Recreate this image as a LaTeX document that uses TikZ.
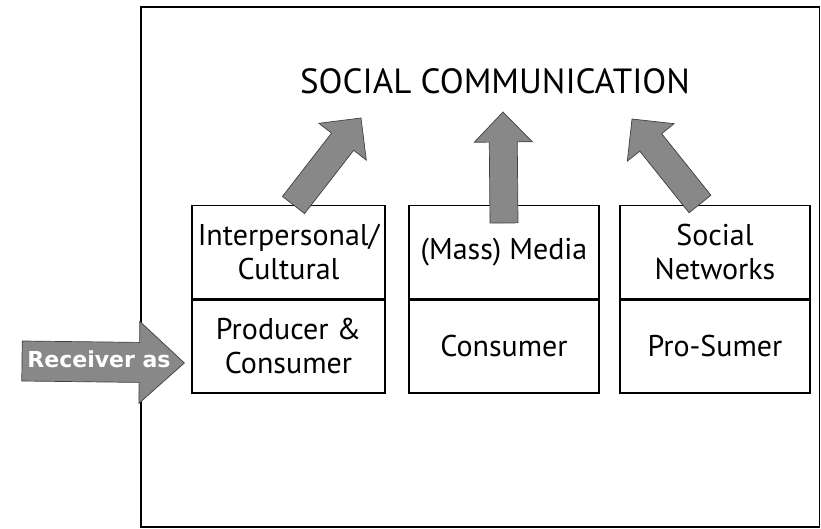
\documentclass[tikz,border=0pt]{standalone}
\usepackage{fontspec}
\setmainfont{PT Sans}
\newfontfamily\labelfont{DejaVu Sans}
\usetikzlibrary{calc}

\definecolor{arrowgray}{RGB}{136,136,136}

\tikzset{
    box/.style={draw, line width=1.3pt, minimum width=190pt, minimum height=93pt,
        inner sep=0pt, align=center, font=\fontsize{30}{34}\selectfont},
    fatarrow/.style={fill=arrowgray, draw=black!75, line width=0.7pt, line join=miter},
}

% #1 tail, #2 tip, #3 half shaft, #4 half head, #5 head length
\newcommand{\blockarrow}[5]{%
    \coordinate (hb) at ($(#2)!#5!(#1)$);
    \filldraw[fatarrow] ($(#1)!#3!90:(#2)$) -- ($(hb)!#3!90:(#2)$) -- ($(hb)!#4!90:(#2)$)
        -- (#2) -- ($(hb)!#4!-90:(#2)$) -- ($(hb)!#3!-90:(#2)$) -- ($(#1)!#3!-90:(#2)$) -- cycle;
}

\begin{document}
\begin{tikzpicture}[x=1pt, y=-1pt]
    \useasboundingbox (0,0) rectangle (821,529);
    \draw[line width=1.8pt] (141,7) rectangle (819.5,527);

    \node[font=\fontsize{35}{40}\selectfont] (title) at (495,81) {SOCIAL COMMUNICATION};

    \node[box, anchor=north, minimum width=193pt] (inter) at (288.5,205) {Interpersonal/\\Cultural};
    \node[box, anchor=north, minimum width=193pt] (interrole) at (inter.south) {Producer \&\\Consumer};
    \node[box, anchor=north] (media) at (504,205) {(Mass) Media};
    \node[box, anchor=north] (mediarole) at (media.south) {Consumer};
    \node[box, anchor=north] (net) at (715,205) {Social\\Networks};
    \node[box, anchor=north] (netrole) at (net.south) {Pro-Sumer};

    \coordinate (intertail) at ([xshift=5pt]inter.north);
    \coordinate (intertip) at (361,118);
    \coordinate (mediatail) at ([yshift=-18pt]media.north);
    \coordinate (mediatip) at (503,112);
    \coordinate (nettail) at ([xshift=-15pt,yshift=1pt]net.north);
    \coordinate (nettip) at (632,119);
    \blockarrow{intertail}{intertip}{14pt}{30pt}{30pt}
    \blockarrow{mediatail}{mediatip}{14pt}{29pt}{30pt}
    \blockarrow{nettail}{nettip}{14pt}{30pt}{30pt}

    \coordinate (recvtail) at (22,361);
    \coordinate (recvtip) at ([xshift=-7pt,yshift=-16.5pt]interrole.west);
    \blockarrow{recvtail}{recvtip}{20pt}{41pt}{45pt}
    \node[text=white, font=\labelfont\bfseries\fontsize{22}{26}\selectfont] (recv) at (99,359) {Receiver as};
\end{tikzpicture}
\end{document}
